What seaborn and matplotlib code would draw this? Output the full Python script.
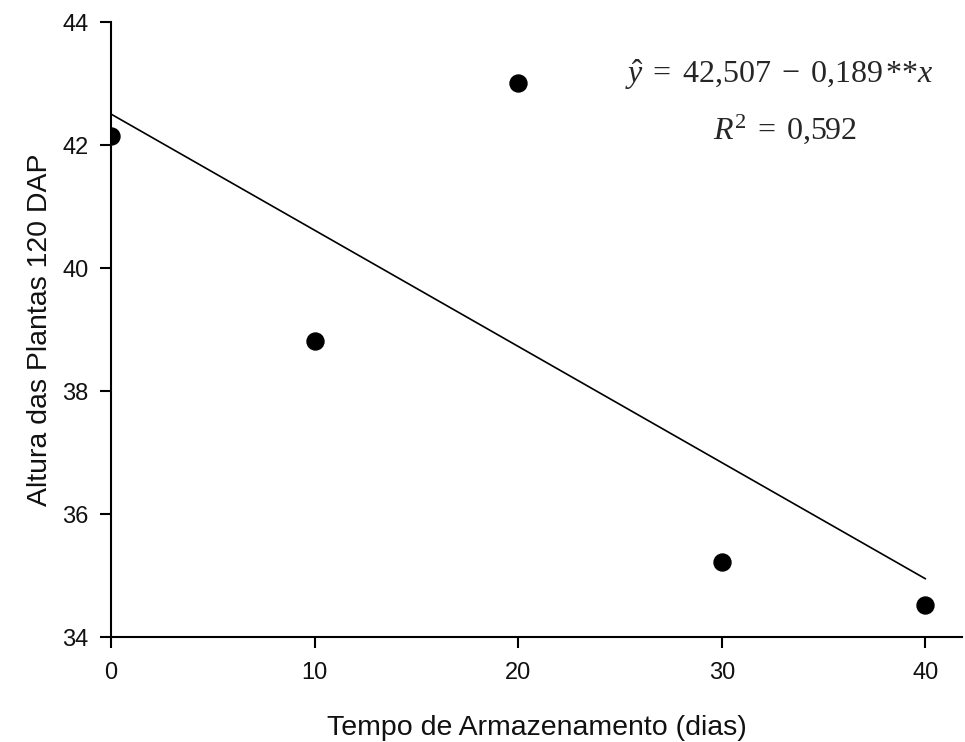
import matplotlib
matplotlib.use('Agg')
import matplotlib.pyplot as plt
import seaborn as sns
import numpy as np

# data
dias = [0, 10, 20, 30, 40]
altura = [42.15, 38.81, 43.02, 35.22, 34.52]
intercepto = 42.507
inclinacao = -0.189

sns.set_style("white")
plt.rcParams['font.family'] = ['Liberation Sans', 'DejaVu Sans']
plt.rcParams['mathtext.fontset'] = 'custom'
plt.rcParams['mathtext.rm'] = 'Liberation Serif'
plt.rcParams['mathtext.it'] = 'Liberation Serif:italic'

fig = plt.figure(figsize=(9.65, 7.42), dpi=100)
ax = fig.add_axes([0.115, 0.1415, 0.882, 0.8285])

# regression line
xs = np.array([dias[0], dias[-1]])
ax.plot(xs, intercepto + inclinacao * xs, color='black', lw=1.2)
sns.scatterplot(x=dias, y=altura, ax=ax, color='black', s=150, edgecolor='black', zorder=3)

ax.set_xlim(0, 41.8)
ax.set_ylim(34, 44)
ax.set_xticks([0, 10, 20, 30, 40])
ax.set_yticks([34, 36, 38, 40, 42, 44])
ax.tick_params(direction='out', length=8, width=1.5, labelsize=17, color='black',
               labelcolor='#111111', pad=8, left=True, bottom=True)
ax.tick_params(axis='x', pad=10)
for s in ['top', 'right']:
    ax.spines[s].set_visible(False)
for s in ['left', 'bottom']:
    ax.spines[s].set_linewidth(1.5)
    ax.spines[s].set_color('black')

ax.set_xlabel('Tempo de Armazenamento (dias)', fontsize=20.5, labelpad=22, color='#111111')
ax.set_ylabel('Altura das Plantas 120 DAP', fontsize=20.5, labelpad=7, color='#111111')

ax.text(0.786, 0.901, r'$\hat{y}\;=\;42{,}507\;-\;0{,}189\,{*}{*}x$', transform=ax.transAxes,
        ha='center', va='baseline', fontsize=23)
ax.text(0.792, 0.811, r'$R^{2}\;=\;0{,}592$', transform=ax.transAxes,
        ha='center', va='baseline', fontsize=23)

plt.savefig('out.png', dpi=100, facecolor='white')
